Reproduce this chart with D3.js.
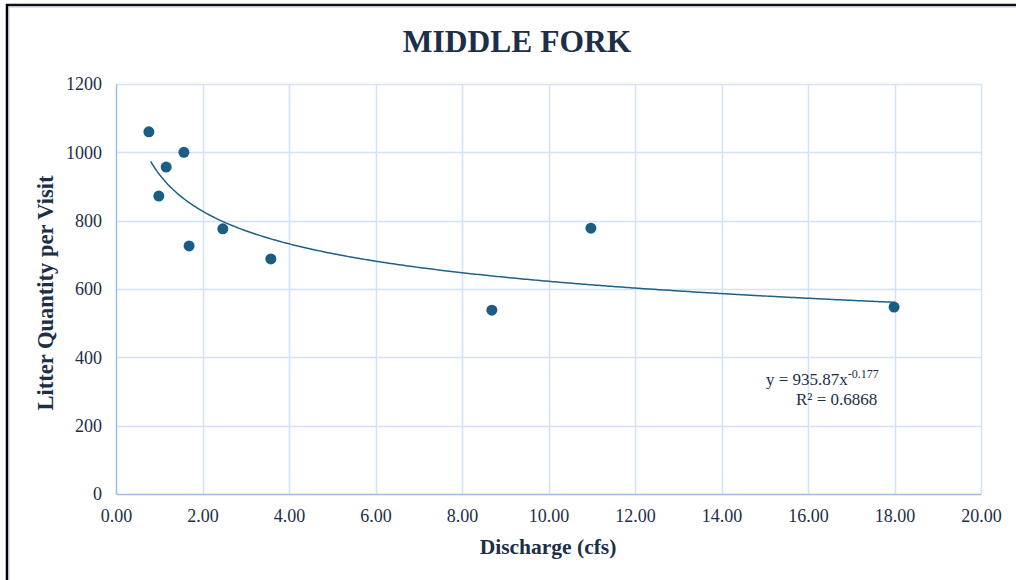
<!DOCTYPE html>
<html>
<head>
<meta charset="utf-8">
<script src="https://cdn.jsdelivr.net/npm/d3@7"></script>
<style>
  body { margin: 0; background: #fff; }
  svg { display: block; font-family: "Liberation Serif", "DejaVu Serif", serif; }
  svg text { font-family: "Liberation Serif", "DejaVu Serif", serif; }
</style>
</head>
<body>
<svg id="chart" width="1016" height="580"></svg>
<script>
// data
var discharge = [0.76, 0.99, 1.16, 1.57, 1.69, 2.47, 3.58, 8.69, 10.98, 17.99];
var litter    = [1060, 872, 957, 1000, 726, 776, 688, 538, 778, 547];
var xTicks = [0, 2, 4, 6, 8, 10, 12, 14, 16, 18, 20];
var yTicks = [0, 200, 400, 600, 800, 1000, 1200];
// power trendline shown on the chart: y = a * x^b
var trendA = 935.87, trendB = -0.177;
var trendFrom = 0.8, trendTo = 18;

var svg = d3.select("svg");
var margin = { top: 84, right: 35, bottom: 86, left: 116 };
var width = 1016 - margin.left - margin.right,
    height = 580 - margin.top - margin.bottom;

var navy = "#1c2e48";
var gridCol = "#d3e2f4";
var axisCol = "#9cbde6";
var markCol = "#1a5e85";

// outer frame
svg.append("rect").attr("x", 9.5).attr("y", 7.5).attr("width", 1020).attr("height", 590)
  .attr("fill", "none").attr("stroke", "#d6e4f5").attr("stroke-width", 1);
svg.append("line").attr("x1", 6).attr("x2", 1016).attr("y1", 5).attr("y2", 5)
  .attr("stroke", "#111").attr("stroke-width", 2.5);
svg.append("line").attr("x1", 7).attr("x2", 7).attr("y1", 4).attr("y2", 580)
  .attr("stroke", "#000").attr("stroke-width", 2.5);

var g = svg.append("g")
  .attr("transform", "translate(" + margin.left + "," + margin.top + ")");

var x = d3.scaleLinear().domain([0, 20]).range([0, width]);
var y = d3.scaleLinear().domain([0, 1200]).range([height, 0]);

// gridlines
g.append("g").selectAll("line").data(xTicks.slice(1)).enter().append("line")
  .attr("x1", function(d) { return Math.round(x(d)) + 0.5; })
  .attr("x2", function(d) { return Math.round(x(d)) + 0.5; })
  .attr("y1", 0).attr("y2", height)
  .attr("stroke", gridCol).attr("stroke-width", 1.5);
g.append("g").selectAll("line").data(yTicks.slice(1)).enter().append("line")
  .attr("y1", function(d) { return Math.round(y(d)) + 0.5; })
  .attr("y2", function(d) { return Math.round(y(d)) + 0.5; })
  .attr("x1", 0).attr("x2", width)
  .attr("stroke", gridCol).attr("stroke-width", 1.5);

// axes
var xAxis = g.append("g").attr("transform", "translate(0," + height + ")")
  .call(d3.axisBottom(x).tickValues(xTicks).tickFormat(d3.format(".2f")).tickSize(0).tickPadding(15));
var yAxis = g.append("g")
  .call(d3.axisLeft(y).tickValues(yTicks).tickFormat(d3.format("d")).tickSize(0).tickPadding(14));
[xAxis, yAxis].forEach(function(a) {
  a.attr("font-family", null).attr("font-size", null);
  a.select(".domain").attr("stroke", axisCol).attr("stroke-width", 1.5);
  a.selectAll("text").style("font-size", "18px").attr("fill", navy);
});

// trendline
var trendX = d3.range(trendFrom, trendTo + 0.001, 0.05);
var line = d3.line()
  .x(function(d) { return x(d); })
  .y(function(d) { return y(trendA * Math.pow(d, trendB)); });
g.append("path").datum(trendX)
  .attr("d", line).attr("fill", "none")
  .attr("stroke", "#1d6088").attr("stroke-width", 1.5);

// points
g.selectAll("circle").data(discharge).enter().append("circle")
  .attr("cx", function(d) { return x(d); })
  .attr("cy", function(d, i) { return y(litter[i]); })
  .attr("r", 5.5)
  .attr("fill", markCol);

// equation
var eq = svg.append("text").attr("x", 766).attr("y", 385)
  .style("font-size", "17px").attr("fill", navy);
eq.append("tspan").text("y = " + trendA + "x");
eq.append("tspan").attr("dy", -7).style("font-size", "12px").text(trendB.toString());
svg.append("text").attr("x", 796).attr("y", 405)
  .style("font-size", "17px").attr("fill", navy).text("R\u00b2 = 0.6868");

// titles
svg.append("text").attr("x", 517).attr("y", 52).attr("text-anchor", "middle")
  .style("font-size", "31.5px").attr("font-weight", "bold").attr("fill", navy)
  .text("MIDDLE FORK");
svg.append("text").attr("x", 548).attr("y", 554).attr("text-anchor", "middle")
  .style("font-size", "21.5px").attr("font-weight", "bold").attr("fill", navy)
  .text("Discharge (cfs)");
svg.append("text").attr("transform", "translate(53,293) rotate(-90)").attr("text-anchor", "middle")
  .style("font-size", "22.5px").attr("font-weight", "bold").attr("fill", navy)
  .text("Litter Quantity per Visit");
</script>
</body>
</html>
